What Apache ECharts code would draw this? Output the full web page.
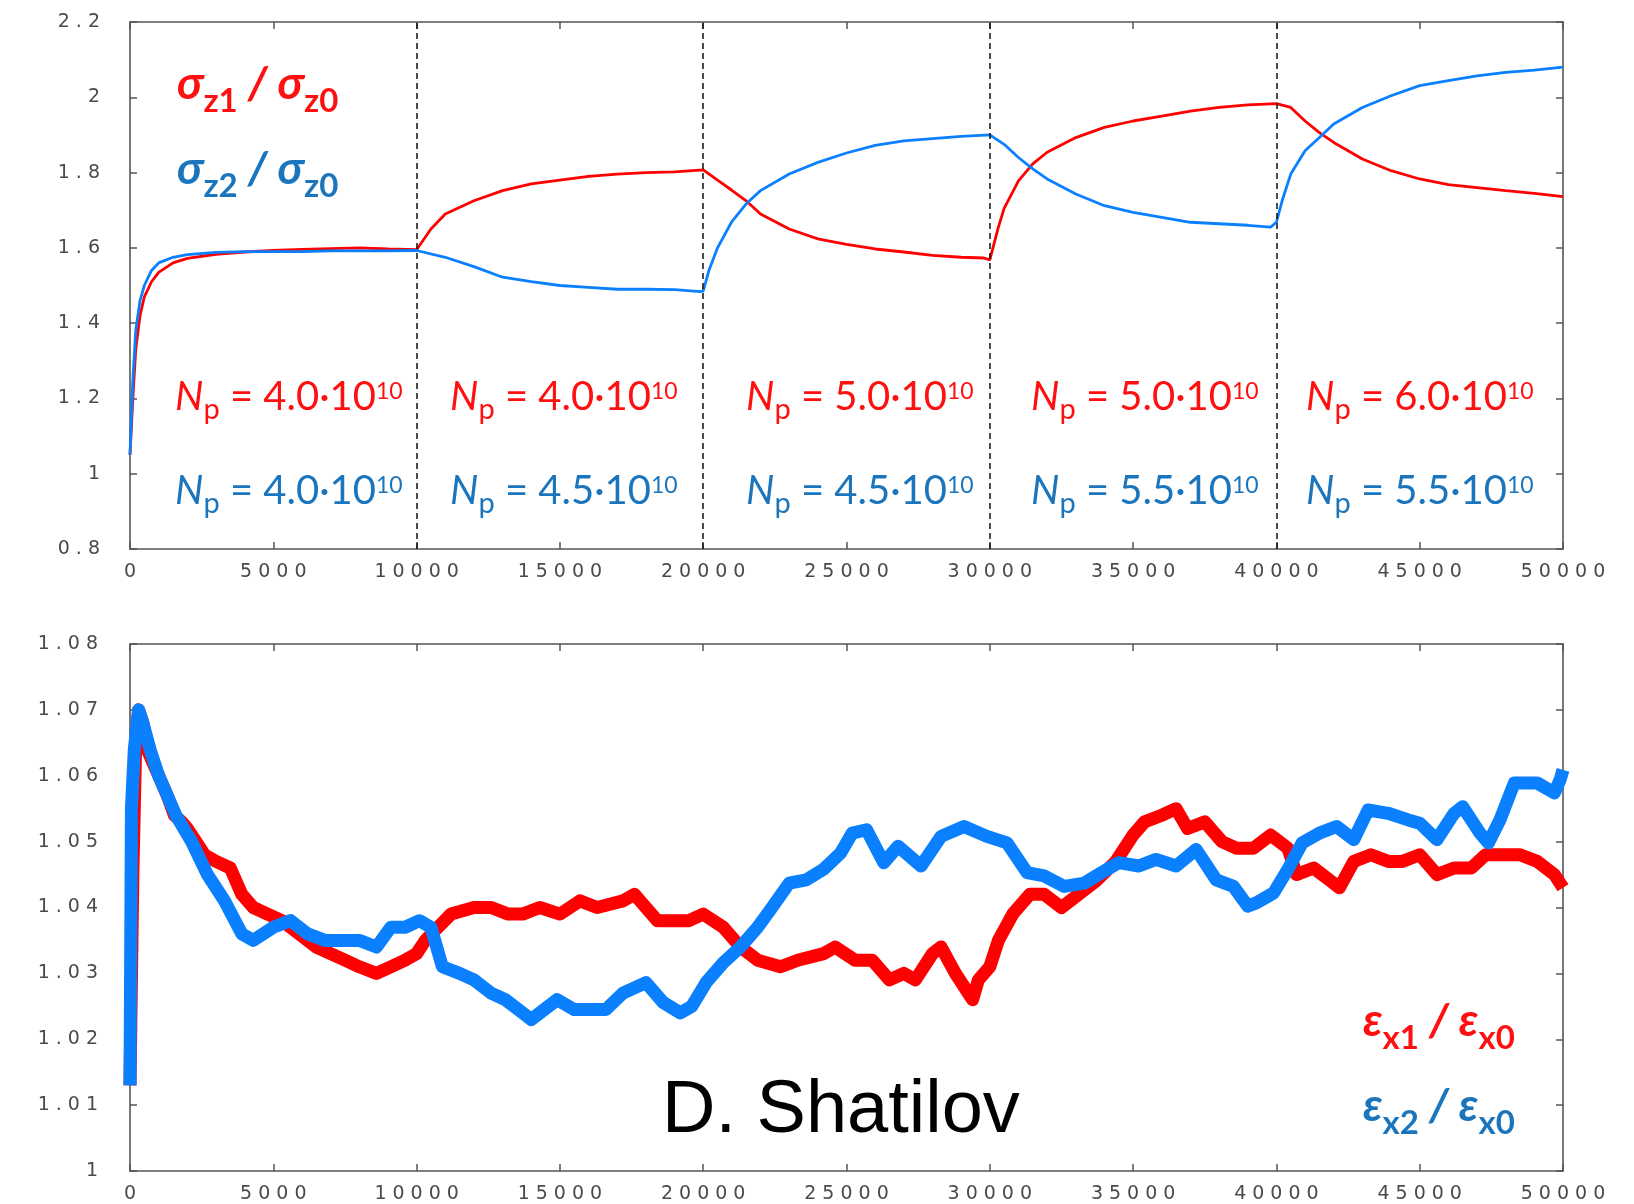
<!DOCTYPE html>
<html>
<head>
<meta charset="utf-8">
<script src="https://cdn.jsdelivr.net/npm/echarts@6/dist/echarts.min.js"></script>
<style>
html,body{margin:0;padding:0;background:#fff;}
#chart{width:1634px;height:1204px;}
</style>
</head>
<body>
<div id="chart"></div>
<script>
// ---------- data ----------
// top panel: bunch length ratios sigma_z1/sigma_z0 (red) and sigma_z2/sigma_z0 (blue)
const sz1X = [0,100,200,350,500,750,1000,1500,2000,3000,4000,5000,6000,7000,8000,9000,10000,
  10500,11000,12000,13000,14000,15000,16000,17000,18000,19000,20000,
  20500,21000,21500,22000,23000,24000,25000,26000,27000,28000,29000,29800,30000,
  30300,30500,31000,31500,32000,33000,34000,35000,36000,37000,38000,39000,40000,
  40500,41000,41500,42000,43000,44000,45000,46000,47000,48000,49000,50000];
const sz1Y = [1.05,1.2,1.33,1.42,1.47,1.51,1.535,1.56,1.572,1.583,1.589,1.593,1.596,1.598,1.6,1.597,1.595,
  1.65,1.69,1.725,1.752,1.77,1.78,1.79,1.796,1.8,1.802,1.807,
  1.78,1.753,1.725,1.69,1.65,1.624,1.609,1.597,1.589,1.58,1.575,1.573,1.568,
  1.655,1.705,1.778,1.823,1.854,1.893,1.92,1.937,1.95,1.963,1.973,1.98,1.983,
  1.973,1.937,1.906,1.88,1.836,1.805,1.783,1.768,1.76,1.752,1.745,1.736];
const sz2X = [0,100,200,350,500,750,1000,1500,2000,3000,4000,5000,6000,7000,8000,9000,10000,
  11000,12000,13000,14000,15000,16000,17000,18000,19000,19900,20000,
  20200,20500,21000,21500,22000,23000,24000,25000,26000,27000,28000,29000,30000,
  30500,31000,31500,32000,33000,34000,35000,36000,37000,38000,39000,39800,40000,
  40200,40500,41000,41500,42000,43000,44000,45000,46000,47000,48000,49000,50000];
const sz2Y = [1.05,1.25,1.38,1.46,1.5,1.54,1.56,1.575,1.582,1.588,1.59,1.59,1.59,1.592,1.592,1.592,1.593,
  1.575,1.55,1.522,1.51,1.5,1.495,1.49,1.49,1.489,1.484,1.485,
  1.54,1.6,1.67,1.717,1.752,1.796,1.827,1.852,1.872,1.884,1.89,1.896,1.9,
  1.875,1.84,1.81,1.783,1.743,1.712,1.694,1.681,1.668,1.664,1.66,1.655,1.668,
  1.725,1.796,1.858,1.893,1.929,1.973,2.004,2.031,2.044,2.057,2.066,2.072,2.08];
const dashX = [10000,20000,30000,40000];
const npRed = ['4.0','4.0','5.0','5.0','6.0'];
const npBlue = ['4.0','4.5','4.5','5.5','5.5'];

// bottom panel: emittance ratios eps_x1/eps_x0 (red) and eps_x2/eps_x0 (blue)
const ex1X = [0,100,200,300,450,600,800,1000,1300,1550,1800,2000,2300,2600,3000,3500,3900,4300,4800,5300,
  5900,6500,7000,7500,8000,8600,9100,9600,10000,10300,10750,11200,12000,12600,13200,13700,14300,15000,
  15700,16300,17200,17600,18400,19000,19500,20000,20700,21300,21900,22700,23300,24200,24600,25300,25900,
  26500,27000,27400,28000,28300,28800,29400,29600,30000,30300,30800,31400,31900,32500,33100,33700,34400,
  35000,35400,36000,36500,36900,37500,38100,38600,39200,39800,40400,40700,41300,41900,42200,42700,43300,
  43900,44400,45000,45600,46200,46800,47300,47900,48500,49100,49700,50000];
const ex1Y = [1.013,1.045,1.065,1.07,1.068,1.064,1.062,1.06,1.057,1.054,1.053,1.052,1.05,1.048,1.047,1.046,1.042,1.04,1.039,1.038,
  1.036,1.034,1.033,1.032,1.031,1.03,1.031,1.032,1.033,1.035,1.037,1.039,1.04,1.04,1.039,1.039,1.04,1.039,
  1.041,1.04,1.041,1.042,1.038,1.038,1.038,1.039,1.037,1.034,1.032,1.031,1.032,1.033,1.034,1.032,1.032,
  1.029,1.03,1.029,1.033,1.034,1.03,1.026,1.029,1.031,1.035,1.039,1.042,1.042,1.04,1.042,1.044,1.047,
  1.051,1.053,1.054,1.055,1.052,1.053,1.05,1.049,1.049,1.051,1.049,1.045,1.046,1.044,1.043,1.047,1.048,
  1.047,1.047,1.048,1.045,1.046,1.046,1.048,1.048,1.048,1.047,1.045,1.043];
const ex2X = [0,50,150,300,450,700,1000,1300,1600,2150,2700,3300,3900,4300,5000,5600,6200,6800,7500,8000,
  8600,9100,9600,10100,10500,10900,11500,12000,12600,13100,13700,14000,14900,15500,16100,16600,17200,18000,
  18600,19200,19600,20100,20700,21300,21900,22400,23000,23600,24200,24800,25200,25700,26300,26800,27600,
  28300,29100,29900,30600,31300,31900,32600,33300,33900,34500,35200,35800,36500,37200,37900,38500,39000,
  39300,39900,40400,40900,41500,42100,42700,43200,43900,44600,45000,45600,46200,46500,47100,47400,47800,
  48300,49100,49700,49900,50000];
const ex2Y = [1.013,1.055,1.064,1.07,1.068,1.064,1.06,1.057,1.054,1.05,1.045,1.041,1.036,1.035,1.037,1.038,1.036,1.035,1.035,1.035,
  1.034,1.037,1.037,1.038,1.037,1.031,1.03,1.029,1.027,1.026,1.024,1.023,1.026,1.0245,1.0245,1.0245,1.027,1.0286,
  1.0256,1.024,1.025,1.0286,1.0316,1.034,1.037,1.04,1.0437,1.0442,1.0458,1.0483,1.0513,1.0518,1.0468,1.0493,1.0463,
  1.0508,1.0523,1.0508,1.0498,1.0453,1.0448,1.0432,1.0437,1.0453,1.0468,1.0463,1.0473,1.0463,1.0488,1.0442,1.0432,1.0402,
  1.0407,1.0422,1.0458,1.0498,1.0513,1.0523,1.0503,1.0548,1.0543,1.0533,1.0528,1.0503,1.0543,1.0553,1.0513,1.0498,1.0533,
  1.0589,1.0589,1.0574,1.0594,1.0609];

// ---------- styling ----------
const RED_LINE = '#ff0000';
const BLUE_LINE = '#0a80ff';
const RED_TEXT = '#ff1010';
const BLUE_TEXT = '#1b75bc';
const AXIS_COL = '#555555';
const LABEL_FONT = '"DejaVu Sans", Verdana, sans-serif';
const TXT_FONT = 'Lato, "Open Sans", "DejaVu Sans", sans-serif';

const pairs = (xs, ys) => xs.map((x, i) => [x, ys[i]]);
// wide, letter-spaced tick labels (as in the reference)
const spaced = v => String(v).split('').map(ch => '{c|' + ch + '}').join('');
const labelRich = {c: {fontSize: 19, fontFamily: LABEL_FONT, color: '#4a4a4a', padding: [0, 3, 0, 3]}};

function xAx(grid, pos, showLabel, margin) {
  return {
    type: 'value', gridIndex: grid, position: pos, min: 0, max: 50000, interval: 5000,
    axisLine: {show: true, onZero: false, lineStyle: {color: AXIS_COL, width: 1.6}},
    axisTick: {show: true, inside: true, length: 7, lineStyle: {color: AXIS_COL, width: 1.5}},
    axisLabel: {show: showLabel, margin: margin, formatter: v => spaced(v), rich: labelRich,
      color: '#4a4a4a', fontSize: 19, fontFamily: LABEL_FONT, hideOverlap: false},
    splitLine: {show: false}
  };
}
function yAx(grid, pos, showLabel, min, max, interval, margin, dec) {
  return {
    type: 'value', gridIndex: grid, position: pos, min: min, max: max, interval: interval,
    axisLine: {show: true, onZero: false, lineStyle: {color: AXIS_COL, width: 1.6}},
    axisTick: {show: true, inside: true, length: 7, lineStyle: {color: AXIS_COL, width: 1.5}},
    axisLabel: {show: showLabel, margin: margin, formatter: v => spaced(+v.toFixed(dec)), rich: labelRich,
      color: '#4a4a4a', fontSize: 19, fontFamily: LABEL_FONT, hideOverlap: false},
    splitLine: {show: false}
  };
}

// ---------- annotation texts ----------
// rich tokens: all bottom-aligned on a 60px line; token "height" sets the vertical centre of each glyph run
const graphics = [];
const secLeft = [175, 450, 746, 1031, 1306];
const npRich = {
  n: {fontFamily: TXT_FONT, fontStyle: 'italic', fontSize: 40, height: 41.6, lineHeight: 60, verticalAlign: 'bottom'},
  p: {fontFamily: TXT_FONT, fontSize: 29, height: 17, lineHeight: 60, verticalAlign: 'bottom'},
  e: {fontFamily: TXT_FONT, fontSize: 40, height: 41.6, lineHeight: 60, verticalAlign: 'bottom'},
  s: {fontFamily: TXT_FONT, fontSize: 23, height: 53.6, lineHeight: 60, verticalAlign: 'bottom'}
};
function npText(val) { return '{n|N}{p|p}{e| = ' + val + '\u00b710}{s|10}'; }
for (let i = 0; i < 5; i++) {
  graphics.push({type: 'text', x: secLeft[i], y: 358, z: 100,
    style: {text: npText(npRed[i]), fill: RED_TEXT, rich: npRich, align: 'left', verticalAlign: 'top'}});
  graphics.push({type: 'text', x: secLeft[i], y: 452, z: 100,
    style: {text: npText(npBlue[i]), fill: BLUE_TEXT, rich: npRich, align: 'left', verticalAlign: 'top'}});
}
const ratioRich = (big, sub, hBig, hSub) => ({
  g: {fontFamily: TXT_FONT, fontStyle: 'italic', fontWeight: 'bold', fontSize: big, height: hBig, lineHeight: 60, verticalAlign: 'bottom'},
  z: {fontFamily: TXT_FONT, fontWeight: 'bold', fontSize: sub, height: hSub, lineHeight: 60, verticalAlign: 'bottom'},
  sl: {fontFamily: TXT_FONT, fontStyle: 'italic', fontWeight: 'bold', fontSize: big, height: hBig, lineHeight: 60, verticalAlign: 'bottom'}
});
const sigRich = ratioRich(46, 33, 48, 14);
const epsRich = ratioRich(46, 33, 49, 15);
const labelDefs = [
  {t: '{g|σ}{z|z1}{sl| / }{g|σ}{z|z0}', x: 177, y: 48, c: RED_TEXT, r: sigRich},
  {t: '{g|σ}{z|z2}{sl| / }{g|σ}{z|z0}', x: 177, y: 133, c: BLUE_TEXT, r: sigRich},
  {t: '{g|ε}{z|x1}{sl| / }{g|ε}{z|x0}', x: 1363, y: 986, c: RED_TEXT, r: epsRich},
  {t: '{g|ε}{z|x2}{sl| / }{g|ε}{z|x0}', x: 1363, y: 1071, c: BLUE_TEXT, r: epsRich}
];
labelDefs.forEach(d => graphics.push({type: 'text', x: d.x, y: d.y, z: 100,
  style: {text: d.t, fill: d.c, rich: d.r, align: 'left', verticalAlign: 'top'}}));
graphics.push({type: 'text', x: 662, y: 1112, z: 100,
  style: {text: 'D. Shatilov', fill: '#000', font: '74px "Liberation Sans", Arial, sans-serif',
    align: 'left', verticalAlign: 'middle'}});

const option = {
  animation: false,
  backgroundColor: '#ffffff',
  grid: [
    {left: 130, top: 22, width: 1433, height: 527},
    {left: 130, top: 644, width: 1433, height: 528}
  ],
  xAxis: [xAx(0, 'bottom', true, 14), xAx(0, 'top', false, 8), xAx(1, 'bottom', true, 14), xAx(1, 'top', false, 8)],
  yAxis: [yAx(0, 'left', true, 0.8, 2.2, 0.2, 27, 1), yAx(0, 'right', false, 0.8, 2.2, 0.2, 8, 1),
          yAx(1, 'left', true, 1.0, 1.08, 0.01, 29, 2), yAx(1, 'right', false, 1.0, 1.08, 0.01, 8, 2)],
  series: [
    {type: 'line', name: 'σz1/σz0', xAxisIndex: 0, yAxisIndex: 0, data: pairs(sz1X, sz1Y),
      showSymbol: false, symbol: 'none', lineStyle: {color: RED_LINE, width: 2.8}, itemStyle: {color: RED_LINE}, z: 3,
      markLine: {silent: true, symbol: 'none', label: {show: false},
        lineStyle: {color: '#111', type: [6, 4], width: 1.5},
        data: dashX.map(v => ({xAxis: v}))}},
    {type: 'line', name: 'σz2/σz0', xAxisIndex: 0, yAxisIndex: 0, data: pairs(sz2X, sz2Y),
      showSymbol: false, symbol: 'none', lineStyle: {color: BLUE_LINE, width: 2.8}, itemStyle: {color: BLUE_LINE}, z: 4},
    {type: 'line', name: 'εx1/εx0', xAxisIndex: 2, yAxisIndex: 2, data: pairs(ex1X, ex1Y),
      showSymbol: false, symbol: 'none', lineStyle: {color: RED_LINE, width: 13, join: 'round'}, itemStyle: {color: RED_LINE}, z: 3},
    {type: 'line', name: 'εx2/εx0', xAxisIndex: 2, yAxisIndex: 2, data: pairs(ex2X, ex2Y),
      showSymbol: false, symbol: 'none', lineStyle: {color: BLUE_LINE, width: 13, join: 'round'}, itemStyle: {color: BLUE_LINE}, z: 4}
  ],
  graphic: {elements: graphics}
};
const chart = echarts.init(document.getElementById('chart'), null, {renderer: 'canvas'});
chart.setOption(option);
</script>
</body>
</html>
